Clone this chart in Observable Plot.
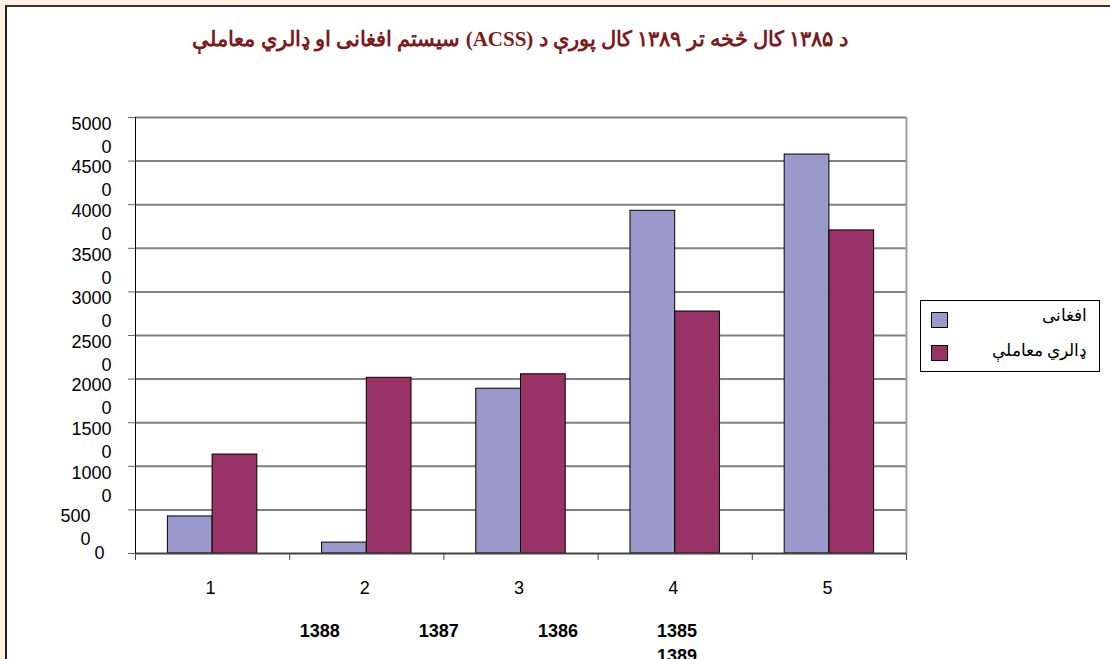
<!DOCTYPE html>
<html>
<head>
<meta charset="utf-8">
<script src="https://cdn.jsdelivr.net/npm/d3@7"></script>
<script src="https://cdn.jsdelivr.net/npm/@observablehq/plot@0.6"></script>
<style>
  html, body { margin: 0; padding: 0; width: 1110px; height: 659px; overflow: hidden; background: #fdf0e2; }
  #frame { position: absolute; left: 5px; top: 5px; width: 1200px; height: 800px; background: #fff;
           border-left: 2px solid #222; border-top: 2px solid #333; }
  #chart { position: absolute; left: 0; top: 0; }
  #title { position: absolute; left: 0; width: 1040px; top: 27px; text-align: center; direction: rtl;
           font-family: "Liberation Serif", "DejaVu Serif", serif; font-weight: bold; font-size: 21px; color: #7d1a1c; }
  #legend { position: absolute; left: 920px; top: 300px; width: 180px; height: 72px; border: 1px solid #000;
            background: #fff; box-sizing: border-box; font-family: "Liberation Serif", "DejaVu Serif", serif; font-size: 17px; }
  .sw { position: absolute; left: 10px; width: 15px; height: 14px; border: 1px solid #000; }
  .lt { position: absolute; right: 12px; direction: rtl; white-space: nowrap; }
  #xtitle { position: absolute; left: 277px; width: 420px; top: 619px; direction: rtl; text-align: right;
            font-family: "Liberation Sans", Arial, sans-serif; font-weight: bold; font-size: 18px; word-spacing: 74px; line-height: 25px; }
</style>
</head>
<body>
<div id="frame"></div>
<div id="chart"></div>
<div id="title"></div>
<div id="legend"></div>
<div id="xtitle"></div>
<script>
const titleText = "د ۱۳۸۵ کال څخه تر ۱۳۸۹ کال پورې د (ACSS) سیستم افغانی او ډالري معاملې";
const categories = [1, 2, 3, 4, 5];
const seriesNames = ["افغانی", "ډالري معاملې"];
const seriesColors = ["#9999cc", "#993366"];
const afghani = [4250, 1250, 18900, 39300, 45750];
const dollar = [11350, 20150, 20550, 27750, 37050];
const yTickValues = [0, 5000, 10000, 15000, 20000, 25000, 30000, 35000, 40000, 45000, 50000];
const yTickLabels = ["0", "500\n0", "1000\n0", "1500\n0", "2000\n0", "2500\n0", "3000\n0", "3500\n0", "4000\n0", "4500\n0", "5000\n0"];
const xTitleWords = ["1385", "1386", "1387", "1388", "1389"];

document.getElementById("title").textContent = titleText;
document.getElementById("xtitle").textContent = xTitleWords.join(" ");

const legend = document.getElementById("legend");
seriesNames.forEach((name, i) => {
  const sw = document.createElement("div");
  sw.className = "sw"; sw.style.top = (11 + i * 33) + "px"; sw.style.background = seriesColors[i];
  legend.appendChild(sw);
  const t = document.createElement("div");
  t.className = "lt"; t.style.top = (4 + i * 35) + "px"; t.textContent = name;
  legend.appendChild(t);
});

const barW = 0.29;
const data = categories.flatMap((c, i) => [
  {cat: c, s: seriesNames[0], v: afghani[i], x1: c - barW, x2: c},
  {cat: c, s: seriesNames[1], v: dollar[i], x1: c, x2: c + barW}
]);
const boundaries = [0.5, ...categories.map(c => c + 0.5)];
const ylab = yTickValues.map((v, i) => ({v, t: yTickLabels[i]}));
const font = "Liberation Sans, Arial, sans-serif";

const chart = Plot.plot({
  width: 1110, height: 659,
  marginLeft: 135, marginRight: 204, marginTop: 117, marginBottom: 106,
  style: {background: "transparent", fontFamily: font},
  x: {type: "linear", domain: [0.5, 5.5], axis: null},
  y: {domain: [0, 50000], axis: null},
  color: {domain: seriesNames, range: seriesColors},
  marks: [
    Plot.ruleY(yTickValues.filter(v => v > 0), {stroke: "#808080", strokeWidth: 2}),
    Plot.ruleX([5.5], {y1: 0, y2: 50000, stroke: "#a0a0a0", strokeWidth: 2}),
    Plot.rectY(data, {x1: "x1", x2: "x2", y: "v", fill: "s", stroke: "#000", strokeWidth: 1}),
    Plot.ruleY([0], {stroke: "#444", strokeWidth: 2}),
    Plot.ruleX([0.5], {y1: 0, y2: 50000, stroke: "#000", strokeWidth: 1}),
    Plot.axisY({ticks: yTickValues, tickSize: 7, tickFormat: () => "", label: null, stroke: "#666"}),
    Plot.axisX({ticks: boundaries, tickSize: 7, tickFormat: () => "", label: null, stroke: "#444"}),
    Plot.axisX({ticks: categories, tickSize: 0, tickPadding: 28, fontSize: 18, dx: -2, label: null, tickFormat: d => String(d)}),
    Plot.text(ylab.filter(d => d.v >= 10000), {x: 0.5, y: "v", text: "t", textAnchor: "end", dx: -24, dy: -4,
      lineAnchor: "top", lineHeight: 1.28, fontSize: 18, fill: "#000"}),
    Plot.text(ylab.filter(d => d.v === 5000), {x: 0.5, y: "v", text: "t", textAnchor: "end", dx: -45, dy: -4,
      lineAnchor: "top", lineHeight: 1.28, fontSize: 18, fill: "#000"}),
    Plot.text(ylab.filter(d => d.v === 0), {x: 0.5, y: "v", text: "t", textAnchor: "end", dx: -31,
      lineAnchor: "middle", fontSize: 18, fill: "#000"})
  ]
});
document.getElementById("chart").appendChild(chart);
</script>
</body>
</html>
